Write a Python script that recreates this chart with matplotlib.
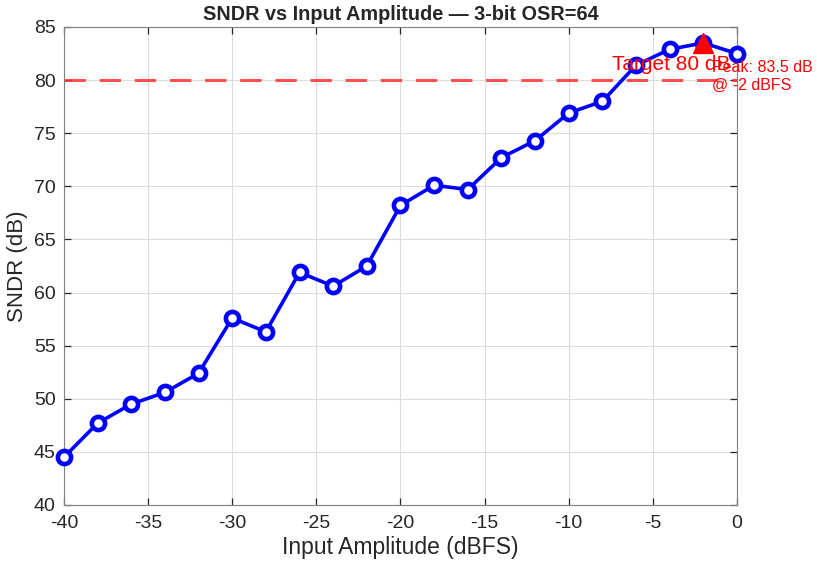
import numpy as np
import matplotlib.pyplot as plt

plt.rcParams['font.family'] = ['Liberation Sans', 'DejaVu Sans']
plt.rcParams['axes.unicode_minus'] = False

amp_dbfs = [-40, -38, -36, -34, -32, -30, -28, -26, -24, -22, -20,
            -18, -16, -14, -12, -10, -8, -6, -4, -2, 0]
sndr_db = [44.5, 47.7, 49.5, 50.6, 52.4, 57.6, 56.3, 61.9, 60.6, 62.5, 68.2,
           70.1, 69.7, 72.7, 74.3, 76.9, 78.0, 81.4, 82.9, 83.5, 82.5]
target_db = 80
peak_x = -2
peak_y = 83.5

fig = plt.figure(figsize=(8.17, 5.66), dpi=100)
ax = fig.add_axes([0.0783, 0.1078, 0.8237, 0.8445])

ax.plot(amp_dbfs, sndr_db, '-o', color='#0000ff', lw=2.6, ms=9.5, mew=3.3,
        mfc='white', zorder=3, clip_on=False)
ax.axhline(target_db, color='#ff3333', ls=(0, (7, 4.5)), lw=2.2, alpha=0.85, zorder=2)
ax.plot(peak_x, peak_y, '^', color='#ff0000', ms=14, zorder=4, clip_on=False)

ax.text(-7.45, target_db + 0.55, 'Target 80 dB', color='#ff0000', fontsize=15,
        va='bottom', ha='left', zorder=5)
ax.text(-1.5, 80.35, 'Peak: 83.5 dB\n@ -2 dBFS', color='#ff0000', fontsize=11.5,
        va='center', ha='left', zorder=5, linespacing=1.3)

ax.set_xlim(-40, 0)
ax.set_ylim(40, 85)
ax.set_xticks(np.arange(-40, 1, 5))
ax.set_yticks(np.arange(40, 86, 5))
ax.grid(True, color='#dcdcdc', lw=0.8)
ax.tick_params(direction='in', labelsize=14, colors='#262626', length=5,
               top=True, right=True, width=0.9)
ax.tick_params(axis='x', pad=7)
ax.tick_params(axis='y', pad=6)
for s in ax.spines.values():
    s.set_color('#808080')

ax.set_xlabel('Input Amplitude (dBFS)', fontsize=16.5, color='#262626', labelpad=3)
ax.set_ylabel('SNDR (dB)', fontsize=16, color='#262626', labelpad=4)
ax.set_title('SNDR vs Input Amplitude — 3-bit OSR=64', fontsize=14.3,
             fontweight='bold', color='#262626', pad=5)

fig.savefig('out.png', dpi=100)
